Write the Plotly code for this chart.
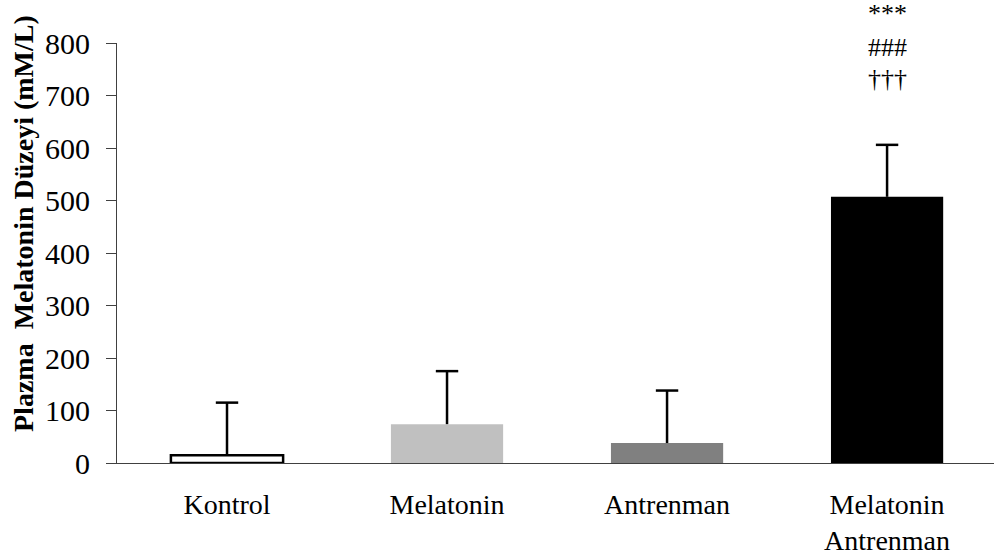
import plotly.graph_objects as go

categories = ["Kontrol", "Melatonin", "Antrenman", "Melatonin<br>Antrenman"]
values = [15, 74, 38, 507]
errors = [100, 101, 100, 99]
bar_colors = ["#FFFFFF", "#C0C0C0", "#808080", "#000000"]
outline_widths = [2.5, 0, 0, 0]
sig_marks = ["***", "###", "†††"]

FONT = "Liberation Serif, Times New Roman, serif"

fig = go.Figure()
fig.add_trace(go.Bar(
    x=categories,
    y=values,
    width=0.51,
    marker=dict(color=bar_colors, line=dict(color="#000000", width=outline_widths)),
    showlegend=False,
))

# upper-only error bars (stem + top cap, no bottom cap)
ex, ey = [], []
for c, v, e in zip(categories, values, errors):
    ex += [c, c, None]
    ey += [v, v + e, None]
fig.add_trace(go.Scatter(x=ex, y=ey, mode="lines", line=dict(color="#000000", width=2.5),
                         showlegend=False, hoverinfo="skip"))
fig.add_trace(go.Scatter(x=categories, y=[v + e for v, e in zip(values, errors)], mode="markers",
                         marker=dict(symbol="line-ew", size=16, line=dict(color="#000000", width=2.5)),
                         showlegend=False, hoverinfo="skip"))

mark_y = [1.07, 0.99, 0.915]
for txt, yy in zip(sig_marks, mark_y):
    fig.add_annotation(x=categories[3], y=yy, xref="x", yref="paper", text=txt,
                       showarrow=False, font=dict(family=FONT, size=26, color="#000000"),
                       yanchor="middle")

fig.add_annotation(x=(23 - 117) / 877, y=(463 - 224) / 420, xref="paper", yref="paper",
                   text="<b>Plazma  Melatonin Düzeyi (mM/L)</b>",
                   showarrow=False, textangle=-90, font=dict(family=FONT, size=28, color="#000000"),
                   xanchor="center", yanchor="middle")

fig.update_layout(
    width=994, height=560,
    margin=dict(l=117, r=0, t=43, b=97),
    paper_bgcolor="white", plot_bgcolor="white",
    font=dict(family=FONT, size=28, color="#000000"),
    xaxis=dict(range=[-0.5, 3.486], showline=True, linecolor="#404040", linewidth=1.2,
               ticks="", showgrid=False, zeroline=False, ticklabelstandoff=16,
               tickfont=dict(family=FONT, size=28)),
    yaxis=dict(range=[0, 800], dtick=100, showline=True, linecolor="#404040", linewidth=1.2,
               ticks="outside", ticklen=10, tickcolor="#404040", tickwidth=1.2,
               showgrid=False, zeroline=False, ticklabelstandoff=10,
               tickfont=dict(family=FONT, size=30)),
)

fig.write_html("out.html")
